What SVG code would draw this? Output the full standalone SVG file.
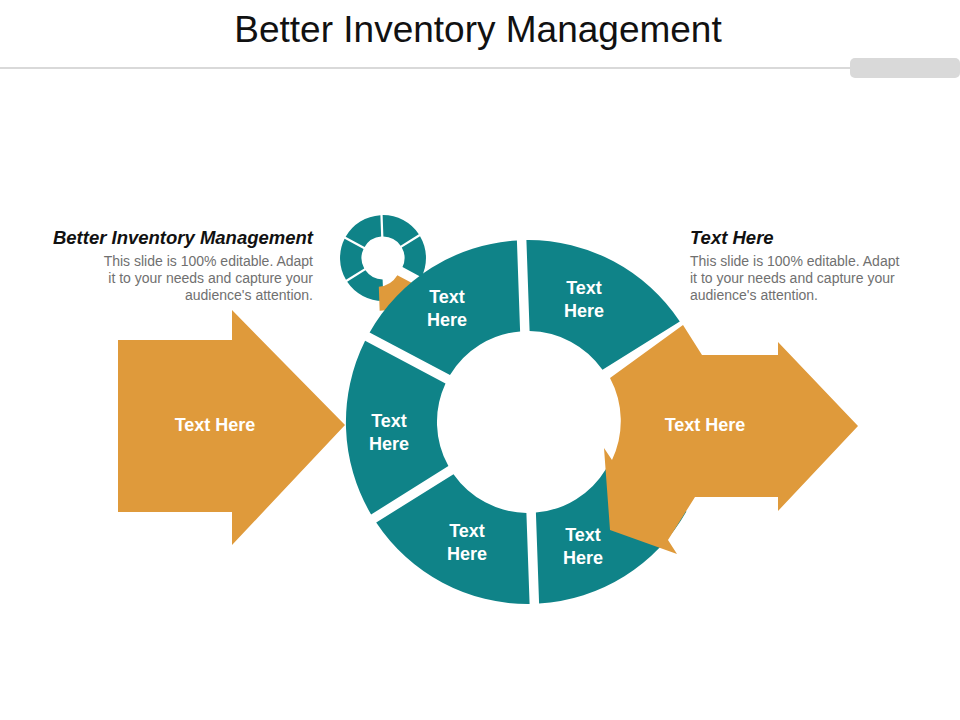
<svg xmlns="http://www.w3.org/2000/svg" width="960" height="720" viewBox="0 0 960 720">
<style>
.t{fill:#0F8388}.o{fill:#DF9A3B}
.lab{font-family:"Liberation Sans",Arial,sans-serif;font-weight:bold;font-size:18px;fill:#fff;text-anchor:middle}
.body{font-family:"Liberation Sans",Arial,sans-serif;font-size:14px;fill:#707070}
.head{font-family:"Liberation Sans",Arial,sans-serif;font-size:18.5px;font-weight:bold;font-style:italic;fill:#111}
</style>
<defs>
<path id="s1" d="M369.6,332.4 A182,182 0 0 1 516.9,240.4 L520.1,331.4 A91,91 0 0 0 450.0,375.1 Z"/>
<path id="s2" d="M526.4,240.0 A182,182 0 0 1 679.8,321.5 L602.5,369.8 A91,91 0 0 0 529.6,331.0 Z"/>
<path id="s3" d="M684.9,329.5 A182,182 0 0 1 690.9,503.2 L610.5,460.5 A91,91 0 0 0 607.6,377.9 Z"/>
<path id="s4" d="M686.4,511.6 A182,182 0 0 1 539.1,603.6 L535.9,512.6 A91,91 0 0 0 606.0,468.9 Z"/>
<path id="s5" d="M529.6,604.0 A182,182 0 0 1 376.2,522.5 L453.5,474.2 A91,91 0 0 0 526.4,513.0 Z"/>
<path id="s6" d="M371.1,514.5 A182,182 0 0 1 365.1,340.8 L445.5,383.5 A91,91 0 0 0 448.4,466.1 Z"/>
</defs>
<text x="478" y="42" font-family="Liberation Sans,Arial,sans-serif" font-size="37" text-anchor="middle" fill="#111">Better Inventory Management</text>
<rect x="0" y="67" width="852" height="2" fill="#D9D9D9"/>
<rect x="850" y="58" width="110" height="20" rx="5" fill="#D9D9D9"/>
<g id="text-left">
<text class="head" x="313" y="244" text-anchor="end">Better Inventory Management</text>
<text class="body" text-anchor="end"><tspan x="313" y="266">This slide is 100% editable. Adapt</tspan><tspan x="313" y="283">it to your needs and capture your</tspan><tspan x="313" y="300">audience's attention.</tspan></text>
</g>
<g id="text-right">
<text class="head" x="690" y="244">Text Here</text>
<text class="body"><tspan x="690" y="266">This slide is 100% editable. Adapt</tspan><tspan x="690" y="283">it to your needs and capture your</tspan><tspan x="690" y="300">audience's attention.</tspan></text>
</g>
<g id="icon" transform="translate(258.4,158.4) scale(0.236)">
<use href="#s1" class="t"/><use href="#s2" class="t"/><use href="#s3" class="t"/><use href="#s5" class="t"/><use href="#s6" class="t"/>
<use href="#s4" class="o" transform="translate(-90,-30) scale(1.12)"/>
</g>
<g id="left-arrow"><path class="o" d="M118,340 L232,340 L232,310 L345,425 L232,545 L232,512 L118,512 Z"/><text class="lab" x="215" y="431">Text Here</text></g>
<g id="seg1"><use href="#s1" class="t"/><text class="lab" x="447" y="303">Text</text><text class="lab" x="447" y="326">Here</text></g>
<g id="seg2"><use href="#s2" class="t"/><text class="lab" x="584" y="294">Text</text><text class="lab" x="584" y="317">Here</text></g>
<g id="seg4"><use href="#s4" class="t"/><text class="lab" x="583" y="541">Text</text><text class="lab" x="583" y="564">Here</text></g>
<g id="seg5"><use href="#s5" class="t"/><text class="lab" x="467" y="537">Text</text><text class="lab" x="467" y="560">Here</text></g>
<g id="seg6"><use href="#s6" class="t"/><text class="lab" x="389" y="427">Text</text><text class="lab" x="389" y="450">Here</text></g>
<g id="right-arrow"><path class="o" d="M683,325 L702,355 L778,355 L778,342 L858,426 L778,511 L778,497 L695,497 L668,540 L677,554 L610,530 L604,448 L612,460 A91,91 0 0 0 610,378 Z"/><text class="lab" x="705" y="431">Text Here</text></g>
<g id="connectors"/>
</svg>
